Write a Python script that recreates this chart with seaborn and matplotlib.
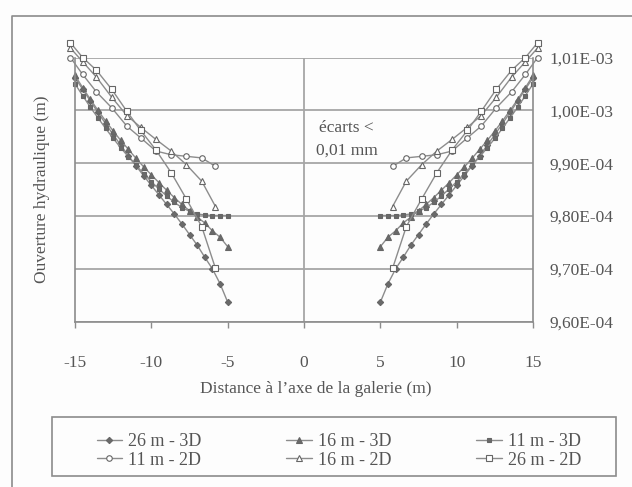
import seaborn as sns
import matplotlib.pyplot as plt
import pandas as pd
from matplotlib.lines import Line2D
from matplotlib.patches import Rectangle

# distances (m) - right side, left side is the mirror
x_3d = [5.0, 5.5, 6.0, 6.5, 7.0, 7.5, 8.0, 8.5, 9.0, 9.5, 10.0,
        10.5, 11.0, 11.5, 12.0, 12.5, 13.0, 13.5, 14.0, 14.5, 15.0]
x_2d = [5.8, 6.7, 7.7, 8.7, 9.7, 10.7, 11.6, 12.6, 13.6, 14.5, 15.3]

# ouverture hydraulique (m)
ouv_26m_3d = [9.637e-4, 9.672e-4, 9.700e-4, 9.722e-4, 9.745e-4, 9.765e-4, 9.785e-4,
              9.804e-4, 9.822e-4, 9.840e-4, 9.858e-4, 9.876e-4, 9.895e-4, 9.914e-4,
              9.934e-4, 9.954e-4, 9.975e-4, 9.996e-4, 10.018e-4, 10.040e-4, 10.062e-4]
ouv_16m_3d = [9.742e-4, 9.760e-4, 9.772e-4, 9.787e-4, 9.798e-4, 9.810e-4, 9.822e-4,
              9.835e-4, 9.849e-4, 9.863e-4, 9.878e-4, 9.893e-4, 9.909e-4, 9.926e-4,
              9.943e-4, 9.961e-4, 9.980e-4, 10.000e-4, 10.021e-4, 10.043e-4, 10.066e-4]
ouv_11m_3d = [9.801e-4, 9.801e-4, 9.801e-4, 9.802e-4, 9.804e-4, 9.809e-4, 9.816e-4,
              9.826e-4, 9.838e-4, 9.851e-4, 9.865e-4, 9.880e-4, 9.896e-4, 9.912e-4,
              9.929e-4, 9.947e-4, 9.966e-4, 9.986e-4, 10.006e-4, 10.028e-4, 10.050e-4]
ouv_11m_2d = [9.894e-4, 9.910e-4, 9.913e-4, 9.916e-4, 9.923e-4, 9.948e-4,
              9.970e-4, 10.005e-4, 10.035e-4, 10.068e-4, 10.100e-4]
ouv_16m_2d = [9.818e-4, 9.866e-4, 9.897e-4, 9.923e-4, 9.945e-4, 9.968e-4,
              9.990e-4, 10.025e-4, 10.063e-4, 10.092e-4, 10.118e-4]
ouv_26m_2d = [9.701e-4, 9.780e-4, 9.832e-4, 9.882e-4, 9.925e-4, 9.962e-4,
              9.998e-4, 10.040e-4, 10.076e-4, 10.100e-4, 10.128e-4]

series = ["26 m - 3D", "16 m - 3D", "11 m - 3D", "11 m - 2D", "16 m - 2D", "26 m - 2D"]
x_ticks = [-15, -10, -5, 0, 5, 10, 15]
y_ticks = [9.6e-4, 9.7e-4, 9.8e-4, 9.9e-4, 1.0e-3, 1.01e-3]
y_ticklabels = ["9,60E-04", "9,70E-04", "9,80E-04", "9,90E-04", "1,00E-03", "1,01E-03"]

rows = []
for name, xs, vs in [("26 m - 3D", x_3d, ouv_26m_3d), ("16 m - 3D", x_3d, ouv_16m_3d),
                     ("11 m - 3D", x_3d, ouv_11m_3d), ("11 m - 2D", x_2d, ouv_11m_2d),
                     ("16 m - 2D", x_2d, ouv_16m_2d), ("26 m - 2D", x_2d, ouv_26m_2d)]:
    for xv, v in zip(xs, vs):
        rows.append({"serie": name, "cote": "droite", "x": xv, "ouv": v})
        rows.append({"serie": name, "cote": "gauche", "x": -xv, "ouv": v})
df = pd.DataFrame(rows)

sns.set_style("white")
plt.rcParams["font.family"] = ["Liberation Serif", "DejaVu Serif"]

txt = "#555555"
gris = "#8c8c8c"
grille = "#a6a6a6"

# marker, size, filled
styles = {
    "26 m - 3D": ("D", 3.2, True),
    "16 m - 3D": ("^", 4.0, True),
    "11 m - 3D": ("s", 3.4, True),
    "11 m - 2D": ("o", 4.0, False),
    "16 m - 2D": ("^", 4.6, False),
    "26 m - 2D": ("s", 4.0, False),
}

fig = plt.figure(figsize=(6.32, 4.87), dpi=100)
fig.patch.set_facecolor("#fdfdfd")
ax = fig.add_axes([0.1187, 0.3394, 0.7247, 0.5425])
ax.set_facecolor("#fdfdfd")

ax.set_xlim(-15, 15)
ax.set_ylim(9.6e-4, 1.01e-3)
ax.set_yticks(y_ticks)
ax.set_yticklabels(y_ticklabels)
ax.set_xticks(x_ticks)
ax.set_xticklabels([str(t) for t in x_ticks])
ax.yaxis.tick_right()
ax.grid(axis="y", color=grille, lw=1.3)
ax.grid(axis="x", visible=False)
ax.axvline(0, color=grille, lw=1.3)
ax.tick_params(axis="y", length=0, pad=12, labelsize=12.5, labelcolor=txt)
ax.tick_params(axis="x", direction="out", length=4, width=1, color=gris,
               pad=20, labelsize=12.5, labelcolor=txt, bottom=True)
ax.spines["top"].set_visible(False)
for s in ["left", "right", "bottom"]:
    ax.spines[s].set_color(gris)
    ax.spines[s].set_linewidth(1.2)

handles = []
for name in series:
    mk, ms, plein = styles[name]
    fc = "#6a6a6a" if plein else "white"
    sub = df[df["serie"] == name]
    for cote in ["droite", "gauche"]:
        sns.lineplot(data=sub[sub["cote"] == cote], x="x", y="ouv", ax=ax,
                     color=gris, lw=1.0, marker=mk, markersize=ms,
                     markerfacecolor=fc, markeredgecolor="#666666",
                     markeredgewidth=0.8, clip_on=False, legend=False)
    handles.append(Line2D([], [], color=gris, lw=1.0, marker=mk, markersize=ms,
                          markerfacecolor=fc, markeredgecolor="#666666",
                          markeredgewidth=0.8, label=name))

ax.set_xlabel("")
ax.set_ylabel("")

ax.text(2.8, 9.945e-4, "écarts <\n0,01 mm", ha="center", va="center",
        fontsize=12.5, color=txt, linespacing=1.55)

fig.text(0.5, 1 - 389 / 487, "Distance à l’axe de la galerie (m)", ha="center",
         va="center", fontsize=12.5, color=txt)
fig.text(42 / 632, 1 - 189 / 487, "Ouverture hydraulique (m)", ha="center",
         va="center", rotation=90, fontsize=12.5, color=txt)

# legend, row order like the original
order = [0, 3, 1, 4, 2, 5]
leg = fig.legend([handles[i] for i in order], [series[i] for i in order],
                 loc="center", bbox_to_anchor=(339 / 632, 1 - 451 / 487), ncol=3,
                 frameon=False, fontsize=13, handlelength=1.4, handletextpad=0.35,
                 columnspacing=4.7, labelspacing=0.08)
for t in leg.get_texts():
    t.set_color(txt)

fig.add_artist(Rectangle((52 / 632, 1 - 476 / 487), 564 / 632, 59 / 487,
                         transform=fig.transFigure, fill=False, edgecolor=gris, lw=1.2))
fig.add_artist(Line2D([12 / 632, 12 / 632, 1], [0, 1 - 16 / 487, 1 - 16 / 487],
                      transform=fig.transFigure, color=gris, lw=1.2))

plt.savefig("out.png", dpi=100)
